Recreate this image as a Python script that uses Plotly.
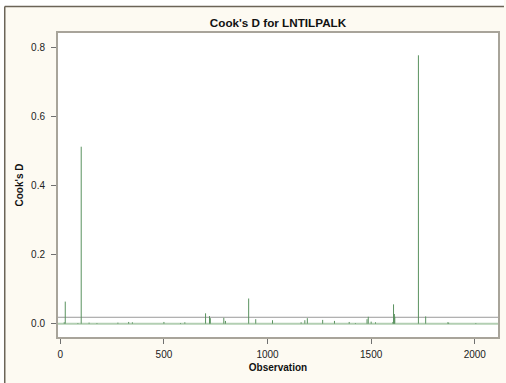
import plotly.graph_objects as go

# Data
observation = [19, 24, 85, 101, 139, 177, 278, 330, 348, 500, 580, 601,
               701, 720, 724, 789, 797, 909, 943, 1024, 1162, 1180, 1192,
               1266, 1323, 1394, 1424, 1480, 1486, 1500, 1521, 1605, 1608,
               1612, 1614, 1728, 1763, 1870, 1874, 2005]
cooks_d = [0.004, 0.064, 0.002, 0.513, 0.003, 0.002, 0.003, 0.005, 0.004,
           0.005, 0.002, 0.004, 0.030, 0.022, 0.016, 0.017, 0.008, 0.073,
           0.013, 0.010, 0.004, 0.010, 0.016, 0.011, 0.008, 0.005, 0.002,
           0.013, 0.020, 0.006, 0.004, 0.005, 0.056, 0.028, 0.020, 0.778,
           0.021, 0.004, 0.003, 0.002]
cutoff = 0.0186
x_ticks = [0, 500, 1000, 1500, 2000]
y_ticks = [0.0, 0.2, 0.4, 0.6, 0.8]
y_tick_labels = ["0.0", "0.2", "0.4", "0.6", "0.8"]

xs, ys = [], []
for o, d in zip(observation, cooks_d):
    xs += [o, o, None]
    ys += [0, d, None]

fig = go.Figure()
# baseline at zero
fig.add_trace(go.Scatter(x=[-11, 2112], y=[0, 0], mode="lines",
                         line=dict(color="#b3cfb3", width=2),
                         hoverinfo="skip", showlegend=False))
# cutoff reference line
fig.add_trace(go.Scatter(x=[-11, 2112], y=[cutoff, cutoff], mode="lines",
                         line=dict(color="#9a9a9a", width=1),
                         hoverinfo="skip", showlegend=False))
# needles
fig.add_trace(go.Scatter(x=xs, y=ys, mode="lines",
                         line=dict(color="#5a925f", width=1),
                         showlegend=False))

axis_common = dict(showline=True, mirror=True, linecolor="#a8a49a",
                   linewidth=2, ticks="outside", ticklen=5,
                   tickcolor="#707070", tickwidth=1, showgrid=False,
                   zeroline=False,
                   tickfont=dict(family="Liberation Sans, Arial", size=10,
                                 color="#222222"))

fig.update_layout(
    width=506, height=383,
    margin=dict(l=58, r=6, t=33, b=46),
    paper_bgcolor="#fdfaf2",
    plot_bgcolor="#ffffff",
    title=dict(text="<b>Cook's D for LNTILPALK</b>",
               font=dict(family="Liberation Sans, Arial", size=11.7,
                         color="#111111"),
               x=0.5, xref="paper", xanchor="center",
               y=1 - 23 / 383, yanchor="middle"),
    xaxis=dict(range=[-11, 2112], tickvals=x_ticks,
               ticklabelstandoff=2,
               title=dict(text="<b>Observation</b>", standoff=5,
                          font=dict(family="Liberation Sans, Arial", size=10,
                                    color="#111111")),
               **axis_common),
    yaxis=dict(range=[-0.0386, 0.8426], tickvals=y_ticks,
               ticktext=y_tick_labels, ticklabelstandoff=4,
               title=dict(text="<b>Cook's D</b>", standoff=6,
                          font=dict(family="Liberation Sans, Arial", size=10,
                                    color="#111111")),
               **axis_common),
    shapes=[
        # white strip outside outer frame
        dict(type="rect", xref="paper", yref="paper",
             x0=-58 / 442, x1=(506 - 58) / 442,
             y0=1 + 27 / 304, y1=1 + 33 / 304,
             fillcolor="#ffffff", line=dict(width=0), layer="below"),
        dict(type="rect", xref="paper", yref="paper",
             x0=-58 / 442, x1=-54 / 442,
             y0=-46 / 304, y1=1 + 33 / 304,
             fillcolor="#ffffff", line=dict(width=0), layer="below"),
        # outer frame lines
        dict(type="line", xref="paper", yref="paper",
             x0=-53.5 / 442, x1=(506 - 58) / 442,
             y0=1 + 26.5 / 304, y1=1 + 26.5 / 304,
             line=dict(color="#6b6457", width=1.5)),
        dict(type="line", xref="paper", yref="paper",
             x0=-53.5 / 442, x1=-53.5 / 442,
             y0=-46 / 304, y1=1 + 26.5 / 304,
             line=dict(color="#6b6457", width=1.5)),
    ],
)

fig.write_html("out.html")
